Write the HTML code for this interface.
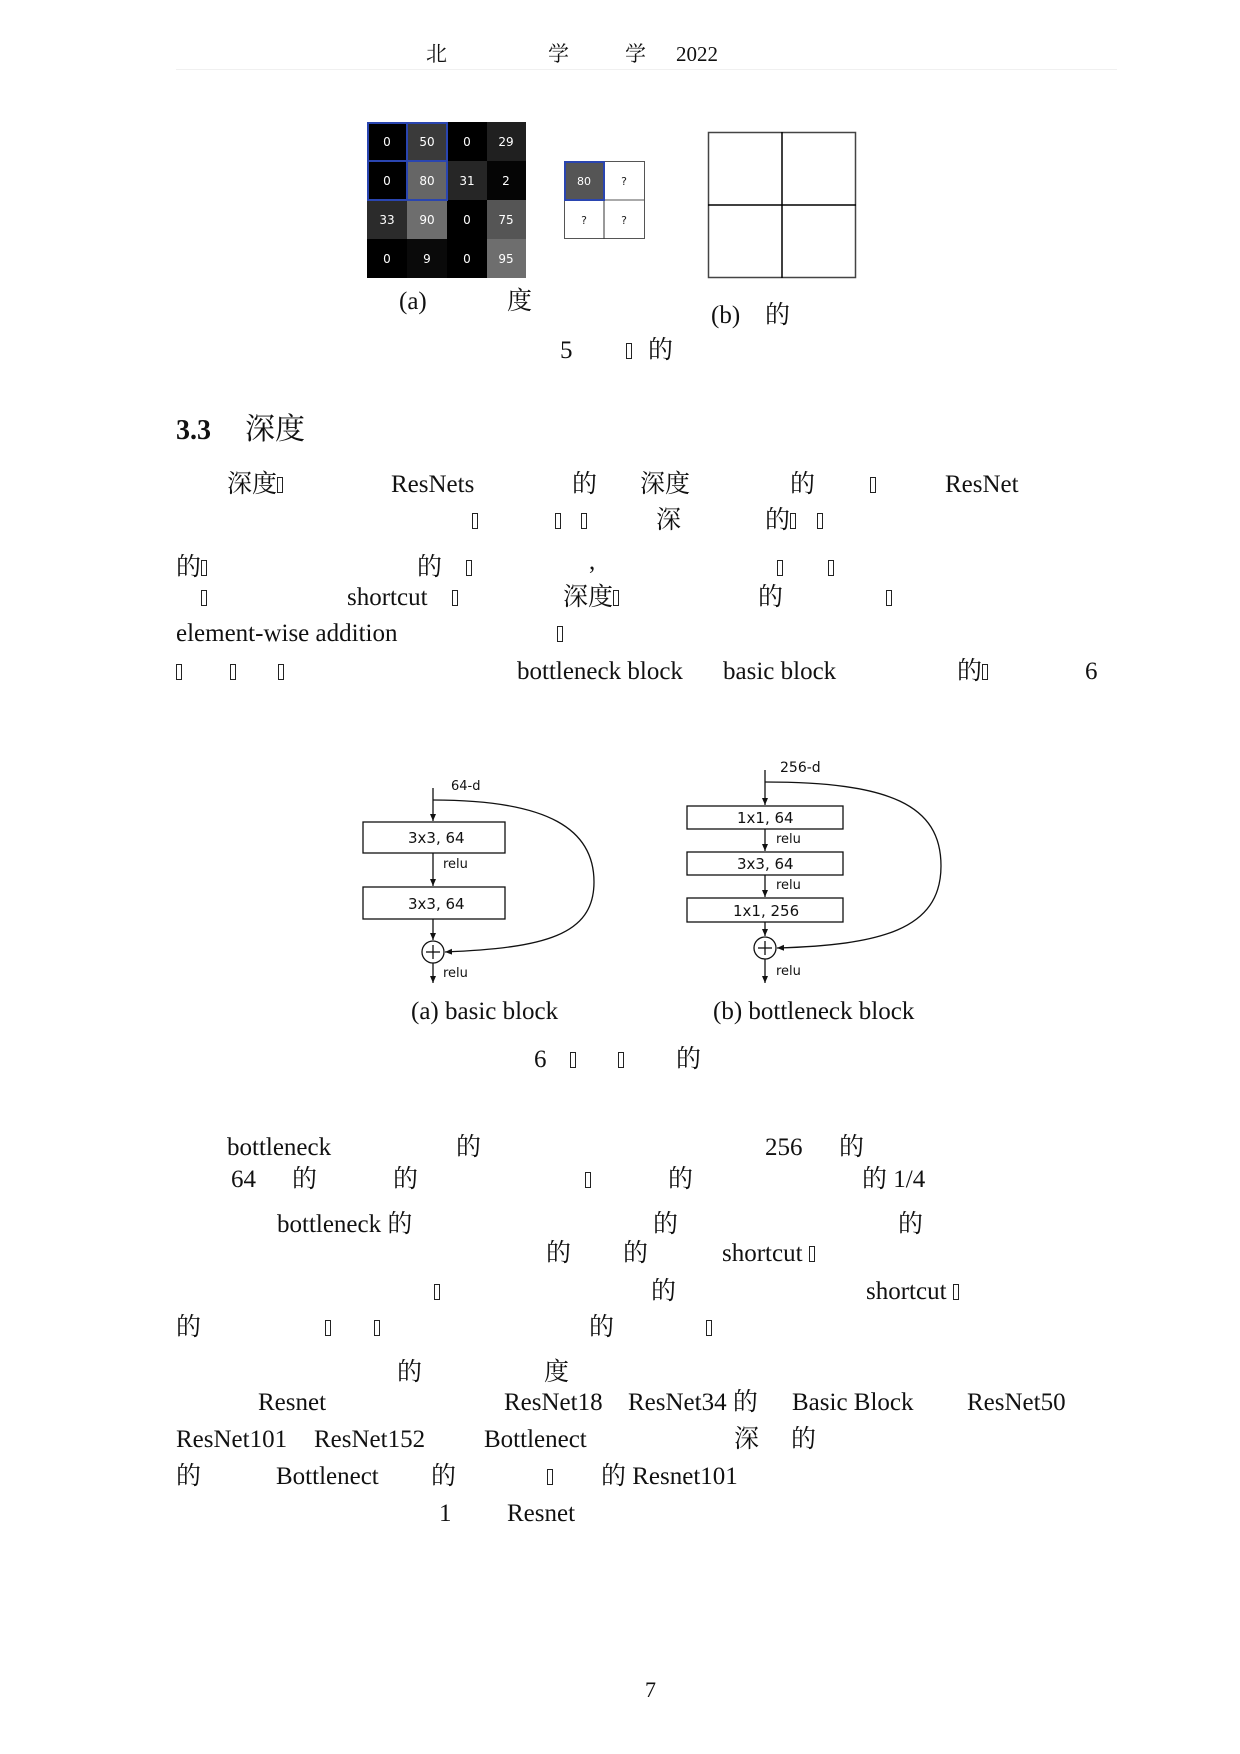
<!DOCTYPE html>
<html><head><meta charset="utf-8">
<style>
body{margin:0;background:#fff;}
#p{position:relative;width:1240px;height:1754px;overflow:hidden;background:#fff;font-family:"Liberation Serif","Noto Serif CJK SC","Noto Sans CJK SC",serif;color:#111;}
.t{position:absolute;font-size:25px;line-height:28px;white-space:nowrap;}
.h{position:absolute;font-size:21px;line-height:24px;white-space:nowrap;}
.b{display:inline-block;width:6px;height:16px;border:1px solid #222;vertical-align:-1px;box-sizing:border-box;}
svg text{font-family:"DejaVu Sans","Liberation Sans",sans-serif;}
</style></head><body><div id="p">
<!-- header -->
<div class="h" style="left:426px;top:42px">北</div>
<div class="h" style="left:548px;top:42px">学</div>
<div class="h" style="left:625px;top:42px">学</div>
<div class="h" style="left:676px;top:42px">2022</div>
<div style="position:absolute;left:176px;top:69px;width:941px;height:1px;background:#f0f0f0"></div>

<!-- figure 5 -->
<svg style="position:absolute;left:0;top:0" width="1240" height="400">
<g font-size="12" fill="#fff" text-anchor="middle">
<rect x="367" y="122" width="40" height="39" fill="#000"/><rect x="407" y="122" width="40" height="39" fill="#3a3a3a"/><rect x="447" y="122" width="40" height="39" fill="#000"/><rect x="487" y="122" width="39" height="39" fill="#202020"/>
<rect x="367" y="161" width="40" height="39" fill="#000"/><rect x="407" y="161" width="40" height="39" fill="#666"/><rect x="447" y="161" width="40" height="39" fill="#262626"/><rect x="487" y="161" width="39" height="39" fill="#050505"/>
<rect x="367" y="200" width="40" height="39" fill="#2b2b2b"/><rect x="407" y="200" width="40" height="39" fill="#6e6e6e"/><rect x="447" y="200" width="40" height="39" fill="#000"/><rect x="487" y="200" width="39" height="39" fill="#555"/>
<rect x="367" y="239" width="40" height="39" fill="#000"/><rect x="407" y="239" width="40" height="39" fill="#0a0a0a"/><rect x="447" y="239" width="40" height="39" fill="#000"/><rect x="487" y="239" width="39" height="39" fill="#6e6e6e"/>
<text x="387" y="146">0</text><text x="427" y="146">50</text><text x="467" y="146">0</text><text x="506" y="146">29</text>
<text x="387" y="185">0</text><text x="427" y="185">80</text><text x="467" y="185">31</text><text x="506" y="185">2</text>
<text x="387" y="224">33</text><text x="427" y="224">90</text><text x="467" y="224">0</text><text x="506" y="224">75</text>
<text x="387" y="263">0</text><text x="427" y="263">9</text><text x="467" y="263">0</text><text x="506" y="263">95</text>
</g>
<rect x="368" y="123" width="39" height="38" fill="none" stroke="#2a45b0" stroke-width="2"/>
<rect x="407" y="123" width="40" height="38" fill="none" stroke="#2a45b0" stroke-width="2"/>
<rect x="368" y="161" width="39" height="39" fill="none" stroke="#2a45b0" stroke-width="2"/>
<rect x="407" y="161" width="40" height="39" fill="none" stroke="#2a45b0" stroke-width="2"/>
<!-- small grid -->
<rect x="564" y="161" width="40" height="39" fill="#555"/>
<rect x="564.5" y="161.5" width="80" height="77" fill="none" stroke="#555" stroke-width="1"/>
<line x1="604" y1="161" x2="604" y2="239" stroke="#333"/><line x1="564" y1="200" x2="645" y2="200" stroke="#555"/>
<rect x="565" y="162" width="39" height="38" fill="none" stroke="#2a45b0" stroke-width="2"/>
<g font-size="11" text-anchor="middle"><text x="584" y="185" fill="#fff">80</text><text x="624" y="185" fill="#222">?</text><text x="584" y="224" fill="#222">?</text><text x="624" y="224" fill="#222">?</text></g>
<!-- empty grid -->
<rect x="708.5" y="132.5" width="147" height="145" fill="none" stroke="#444" stroke-width="1.5"/>
<line x1="782" y1="132" x2="782" y2="278" stroke="#000" stroke-width="1.5"/>
<line x1="708" y1="205" x2="856" y2="205" stroke="#000" stroke-width="1.5"/>
</svg>
<div class="t" style="left:399px;top:288px">(a)</div>
<div class="t" style="left:507px;top:288px">度</div>
<div class="t" style="left:711px;top:302px">(b)</div>
<div class="t" style="left:765px;top:302px">的</div>
<div class="t" style="left:560px;top:337px">5</div>
<div class="t" style="left:626px;top:337px"><span class="b"></span></div>
<div class="t" style="left:648px;top:337px">的</div>

<!-- heading -->
<div class="t" style="left:176px;top:415px;font-size:28px;line-height:32px;font-weight:bold">3.3</div>
<div class="t" style="left:245px;top:413px;font-size:30px;line-height:34px">深度</div>

<!-- para 1 -->
<div class="t" style="left:227px;top:471px">深度<span class="b"></span></div>
<div class="t" style="left:391px;top:471px">ResNets</div>
<div class="t" style="left:572px;top:471px">的</div>
<div class="t" style="left:640px;top:471px">深度</div>
<div class="t" style="left:790px;top:471px">的</div>
<div class="t" style="left:870px;top:471px"><span class="b"></span></div>
<div class="t" style="left:945px;top:471px">ResNet</div>

<div class="t" style="left:472px;top:507px"><span class="b"></span></div>
<div class="t" style="left:555px;top:507px"><span class="b"></span></div>
<div class="t" style="left:581px;top:507px"><span class="b"></span></div>
<div class="t" style="left:656px;top:507px">深</div>
<div class="t" style="left:765px;top:507px">的<span class="b"></span></div>
<div class="t" style="left:817px;top:507px"><span class="b"></span></div>

<div class="t" style="left:176px;top:554px">的<span class="b"></span></div>
<div class="t" style="left:417px;top:554px">的</div>
<div class="t" style="left:466px;top:554px"><span class="b"></span></div>
<div class="t" style="left:589px;top:548px">,</div>
<div class="t" style="left:777px;top:554px"><span class="b"></span></div>
<div class="t" style="left:828px;top:554px"><span class="b"></span></div>

<div class="t" style="left:201px;top:584px"><span class="b"></span></div>
<div class="t" style="left:347px;top:584px">shortcut</div>
<div class="t" style="left:452px;top:584px"><span class="b"></span></div>
<div class="t" style="left:563px;top:584px">深度<span class="b"></span></div>
<div class="t" style="left:758px;top:584px">的</div>
<div class="t" style="left:886px;top:584px"><span class="b"></span></div>

<div class="t" style="left:176px;top:620px">element-wise addition</div>
<div class="t" style="left:557px;top:620px"><span class="b"></span></div>

<div class="t" style="left:176px;top:658px"><span class="b"></span></div>
<div class="t" style="left:230px;top:658px"><span class="b"></span></div>
<div class="t" style="left:278px;top:658px"><span class="b"></span></div>
<div class="t" style="left:517px;top:658px">bottleneck block</div>
<div class="t" style="left:723px;top:658px">basic block</div>
<div class="t" style="left:957px;top:658px">的<span class="b"></span></div>
<div class="t" style="left:1085px;top:658px">6</div>

<!-- figure 6 -->
<svg style="position:absolute;left:0;top:740px" width="1240" height="260" viewBox="0 740 1240 260">
<defs><marker id="a" markerWidth="8" markerHeight="8" refX="7" refY="4" orient="auto" markerUnits="userSpaceOnUse"><path d="M0,1 L7,4 L0,7 Z" fill="#111"/></marker></defs>
<g stroke="#111" stroke-width="1.3" fill="none">
<line x1="433" y1="788" x2="433" y2="821" marker-end="url(#a)"/>
<rect x="363" y="822" width="142" height="31" fill="#fff"/>
<line x1="433" y1="853" x2="433" y2="886" marker-end="url(#a)"/>
<rect x="363" y="887" width="142" height="32" fill="#fff"/>
<line x1="433" y1="919" x2="433" y2="940" marker-end="url(#a)"/>
<circle cx="433" cy="952" r="11" fill="#fff"/>
<line x1="433" y1="945" x2="433" y2="959"/><line x1="426" y1="952" x2="440" y2="952"/>
<line x1="433" y1="963" x2="433" y2="983" marker-end="url(#a)"/>
<path d="M433,800 C550,800 594,830 594,882 C594,935 545,948 445,952" marker-end="url(#a)"/>

<line x1="765" y1="770" x2="765" y2="805" marker-end="url(#a)"/>
<rect x="687" y="806" width="156" height="23" fill="#fff"/>
<line x1="765" y1="829" x2="765" y2="851" marker-end="url(#a)"/>
<rect x="687" y="852" width="156" height="23" fill="#fff"/>
<line x1="765" y1="875" x2="765" y2="897" marker-end="url(#a)"/>
<rect x="687" y="898" width="156" height="24" fill="#fff"/>
<line x1="765" y1="922" x2="765" y2="936" marker-end="url(#a)"/>
<circle cx="765" cy="948" r="11" fill="#fff"/>
<line x1="765" y1="941" x2="765" y2="955"/><line x1="758" y1="948" x2="772" y2="948"/>
<line x1="765" y1="959" x2="765" y2="983" marker-end="url(#a)"/>
<path d="M765,782 C890,782 941,805 941,866 C941,930 880,945 777,948" marker-end="url(#a)"/>
</g>
<g font-size="15" fill="#111" text-anchor="start">
<text x="451" y="790" font-size="13">64-d</text>
<text x="408" y="843">3x3, 64</text>
<text x="443" y="868" font-size="13">relu</text>
<text x="408" y="909">3x3, 64</text>
<text x="443" y="977" font-size="13">relu</text>
<text x="780" y="772" font-size="14">256-d</text>
<text x="737" y="823">1x1, 64</text>
<text x="776" y="843" font-size="13">relu</text>
<text x="737" y="869">3x3, 64</text>
<text x="776" y="889" font-size="13">relu</text>
<text x="733" y="916">1x1, 256</text>
<text x="776" y="975" font-size="13">relu</text>
</g>
</svg>
<div class="t" style="left:411px;top:998px">(a) basic block</div>
<div class="t" style="left:713px;top:998px">(b) bottleneck block</div>
<div class="t" style="left:534px;top:1046px">6</div>
<div class="t" style="left:570px;top:1046px"><span class="b"></span></div>
<div class="t" style="left:618px;top:1046px"><span class="b"></span></div>
<div class="t" style="left:676px;top:1046px">的</div>

<!-- para 2 -->
<div class="t" style="left:227px;top:1134px">bottleneck</div>
<div class="t" style="left:456px;top:1134px">的</div>
<div class="t" style="left:765px;top:1134px">256</div>
<div class="t" style="left:839px;top:1134px">的</div>

<div class="t" style="left:231px;top:1166px">64</div>
<div class="t" style="left:292px;top:1166px">的</div>
<div class="t" style="left:393px;top:1166px">的</div>
<div class="t" style="left:585px;top:1166px"><span class="b"></span></div>
<div class="t" style="left:668px;top:1166px">的</div>
<div class="t" style="left:862px;top:1166px">的 1/4</div>

<div class="t" style="left:277px;top:1211px">bottleneck 的</div>
<div class="t" style="left:653px;top:1211px">的</div>
<div class="t" style="left:898px;top:1211px">的</div>

<div class="t" style="left:546px;top:1240px">的</div>
<div class="t" style="left:623px;top:1240px">的</div>
<div class="t" style="left:722px;top:1240px">shortcut <span class="b"></span></div>

<div class="t" style="left:434px;top:1278px"><span class="b"></span></div>
<div class="t" style="left:651px;top:1278px">的</div>
<div class="t" style="left:866px;top:1278px">shortcut <span class="b"></span></div>

<div class="t" style="left:176px;top:1314px">的</div>
<div class="t" style="left:325px;top:1314px"><span class="b"></span></div>
<div class="t" style="left:374px;top:1314px"><span class="b"></span></div>
<div class="t" style="left:589px;top:1314px">的</div>
<div class="t" style="left:706px;top:1314px"><span class="b"></span></div>

<div class="t" style="left:397px;top:1359px">的</div>
<div class="t" style="left:544px;top:1359px">度</div>

<div class="t" style="left:258px;top:1389px">Resnet</div>
<div class="t" style="left:504px;top:1389px">ResNet18</div>
<div class="t" style="left:628px;top:1389px">ResNet34 的</div>
<div class="t" style="left:792px;top:1389px">Basic Block</div>
<div class="t" style="left:967px;top:1389px">ResNet50</div>

<div class="t" style="left:176px;top:1426px">ResNet101</div>
<div class="t" style="left:314px;top:1426px">ResNet152</div>
<div class="t" style="left:484px;top:1426px">Bottlenect</div>
<div class="t" style="left:734px;top:1426px">深</div>
<div class="t" style="left:791px;top:1426px">的</div>

<div class="t" style="left:176px;top:1463px">的</div>
<div class="t" style="left:276px;top:1463px">Bottlenect</div>
<div class="t" style="left:431px;top:1463px">的</div>
<div class="t" style="left:547px;top:1463px"><span class="b"></span></div>
<div class="t" style="left:601px;top:1463px">的 Resnet101</div>

<div class="t" style="left:439px;top:1500px">1</div>
<div class="t" style="left:507px;top:1500px">Resnet</div>

<div class="t" style="left:645px;top:1676px;font-size:22px">7</div>
</div></body></html>
